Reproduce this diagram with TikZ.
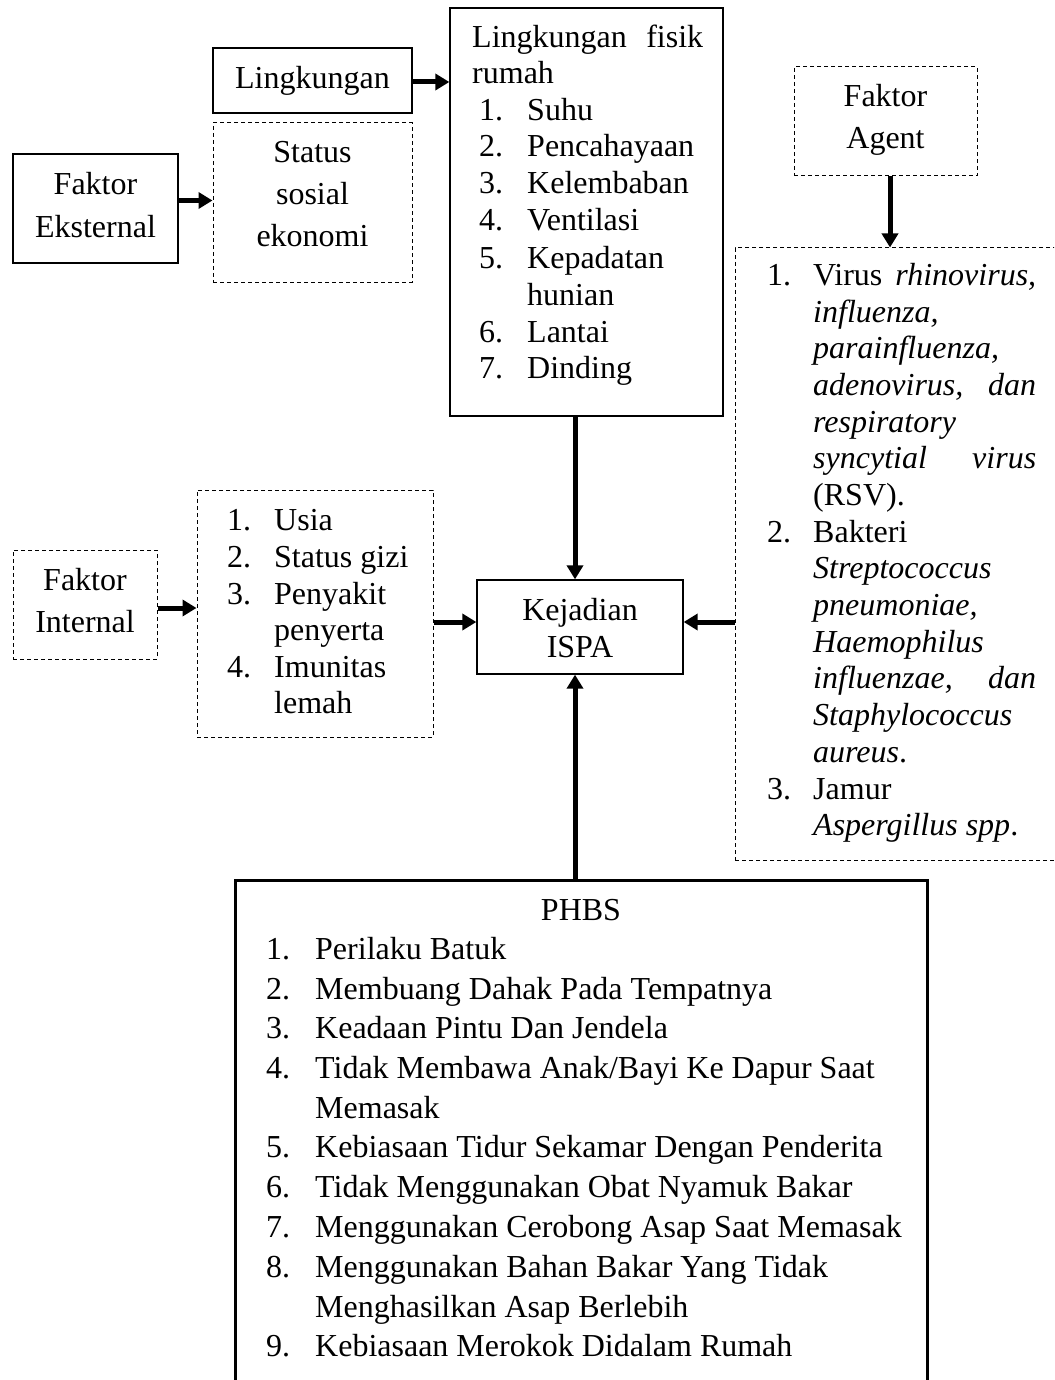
\documentclass[tikz,border=0pt]{standalone}
\usepackage{fontspec}
\setmainfont{Liberation Serif}
\usetikzlibrary{arrows.meta,fit,calc}
\newcommand\myfs{\fontsize{32}{37}\selectfont}
\begin{document}
\begin{tikzpicture}[x=1pt,y=-1pt,
  T/.style={inner sep=0pt, font=\myfs, anchor=base west},
  C/.style={inner sep=0pt, font=\myfs, anchor=base},
  solidbox/.style={draw, line width=1.3pt, inner sep=0pt},
  thickbox/.style={draw, line width=3pt, inner sep=0pt},
  dashbox/.style={draw, line width=1pt, dash pattern=on 4pt off 3pt, inner sep=0pt},
  arr/.style={line width=5pt, -{Triangle[length=14pt,width=16pt]}}
]
\useasboundingbox (0,0) rectangle (1054,1380);
\clip (0,0) rectangle (1054,1380);
\fill[white] (0,0) rectangle (1054,1380);

% boxes
\node[solidbox, fit={(213,48) (412,113)}] (ling) {};
\node[dashbox, fit={(213,123) (412,282)}] (st) {};
\node[solidbox, fit={(13,154) (178,263)}] (fe) {};
\node[solidbox, fit={(450,8) (723,416)}] (fisik) {};
\node[dashbox, fit={(794,67) (977,176)}] (fa) {};
\node[dashbox, fit={(735,248) (1080,860)}] (ag) {};
\node[solidbox, fit={(477,580) (683,674)}] (kej) {};
\node[dashbox, fit={(13,550) (157,659)}] (fi) {};
\node[dashbox, fit={(197,490) (433,737)}] (il) {};
\node[thickbox, fit={(235,880) (927,1420)}] (phbs) {};

% texts
\node[C] (tling) at (312.5,89) {Lingkungan};
\node[C] (tst1) at (312.5,163) {Status};
\node[C] (tst2) at (312.5,205) {sosial};
\node[C] (tst3) at (312.5,247) {ekonomi};
\node[C] (tfe1) at (95.5,195) {Faktor};
\node[C] (tfe2) at (95.5,237) {Eksternal};

\node[T] (tf0) at (472,48) {\makebox[231pt][s]{Lingkungan fisik}};
\node[T] (tf00) at (472,84) {rumah};
\node[T] (nf1) at (479,121) {1.};
\node[T] (tf1) at (527,121) {Suhu};
\node[T] (nf2) at (479,157) {2.};
\node[T] (tf2) at (527,157) {Pencahayaan};
\node[T] (nf3) at (479,194) {3.};
\node[T] (tf3) at (527,194) {Kelembaban};
\node[T] (nf4) at (479,231) {4.};
\node[T] (tf4) at (527,231) {Ventilasi};
\node[T] (nf5) at (479,268) {5.};
\node[T] (tf5) at (527,268) {Kepadatan};
\node[T] (tf5b) at (527,305) {hunian};
\node[T] (nf6) at (479,342) {6.};
\node[T] (tf6) at (527,342) {Lantai};
\node[T] (nf7) at (479,378) {7.};
\node[T] (tf7) at (527,378) {Dinding};

\node[C] (tfa1) at (885.5,107) {Faktor};
\node[C] (tfa2) at (885.5,149) {Agent};

\node[T] (na1) at (767,285) {1.};
\node[T] (ta1) at (813,285) {\makebox[223pt][s]{Virus \textit{rhinovirus,}}};
\node[T] (ta2) at (813,322) {\textit{influenza,}};
\node[T] (ta3) at (813,358) {\textit{parainfluenza,}};
\node[T] (ta4) at (813,395) {\makebox[223pt][s]{\textit{adenovirus, dan}}};
\node[T] (ta5) at (813,432) {\textit{respiratory}};
\node[T] (ta6) at (813,468) {\makebox[223pt][s]{\textit{syncytial virus}}};
\node[T] (ta7) at (813,505) {(RSV).};
\node[T] (na2) at (767,542) {2.};
\node[T] (ta8) at (813,542) {Bakteri};
\node[T] (ta9) at (813,578) {\textit{Streptococcus}};
\node[T] (ta10) at (813,615) {\textit{pneumoniae,}};
\node[T] (ta11) at (813,652) {\textit{Haemophilus}};
\node[T] (ta12) at (813,688) {\makebox[223pt][s]{\textit{influenzae, dan}}};
\node[T] (ta13) at (813,725) {\textit{Staphylococcus}};
\node[T] (ta14) at (813,762) {\textit{aureus}.};
\node[T] (na3) at (767,799) {3.};
\node[T] (ta15) at (813,799) {Jamur};
\node[T] (ta16) at (813,835) {\textit{Aspergillus spp}.};

\node[C] (tfi1) at (85,590) {Faktor};
\node[C] (tfi2) at (85,632) {Internal};

\node[T] (ni1) at (227,530) {1.};
\node[T] (ti1) at (274,530) {Usia};
\node[T] (ni2) at (227,567) {2.};
\node[T] (ti2) at (274,567) {Status gizi};
\node[T] (ni3) at (227,604) {3.};
\node[T] (ti3) at (274,604) {Penyakit};
\node[T] (ti3b) at (274,640) {penyerta};
\node[T] (ni4) at (227,677) {4.};
\node[T] (ti4) at (274,677) {Imunitas};
\node[T] (ti4b) at (274,713) {lemah};

\node[C] (tk1) at (580,620) {Kejadian};
\node[C] (tk2) at (580,657) {ISPA};

\node[C] (tp0) at (581,920) {PHBS};
\node[T] (np1) at (266,959) {1.};
\node[T] (tp1) at (315,959) {Perilaku Batuk};
\node[T] (np2) at (266,999) {2.};
\node[T] (tp2) at (315,999) {Membuang Dahak Pada Tempatnya};
\node[T] (np3) at (266,1038) {3.};
\node[T] (tp3) at (315,1038) {Keadaan Pintu Dan Jendela};
\node[T] (np4) at (266,1078) {4.};
\node[T] (tp4) at (315,1078) {Tidak Membawa Anak/Bayi Ke Dapur Saat};
\node[T] (tp4b) at (315,1118) {Memasak};
\node[T] (np5) at (266,1157) {5.};
\node[T] (tp5) at (315,1157) {Kebiasaan Tidur Sekamar Dengan Penderita};
\node[T] (np6) at (266,1197) {6.};
\node[T] (tp6) at (315,1197) {Tidak Menggunakan Obat Nyamuk Bakar};
\node[T] (np7) at (266,1237) {7.};
\node[T] (tp7) at (315,1237) {Menggunakan Cerobong Asap Saat Memasak};
\node[T] (np8) at (266,1277) {8.};
\node[T] (tp8) at (315,1277) {Menggunakan Bahan Bakar Yang Tidak};
\node[T] (tp8b) at (315,1317) {Menghasilkan Asap Berlebih};
\node[T] (np9) at (266,1356) {9.};
\node[T] (tp9) at (315,1356) {Kebiasaan Merokok Didalam Rumah};

% connectors
\coordinate (kejL) at ($(kej.west)+(0,-5)$);
\coordinate (kejR) at ($(kej.east)+(0,-5)$);
\coordinate (kejT) at ($(kej.north)+(-5,0)$);
\coordinate (kejB) at ($(kej.south)+(-5,0)$);
\coordinate (faB) at ($(fa.south)+(4.5,0)$);
\coordinate (feR) at ($(fe.east)+(0,-8)$);
\coordinate (lingR) at ($(ling.east)+(0,1.5)$);
\coordinate (fiR) at ($(fi.east)+(0,3.5)$);

\draw[arr] (feR) -- (feR -| st.west);
\draw[arr] (lingR) -- (lingR -| fisik.west);
\draw[arr] (fiR) -- (fiR -| il.west);
\draw[arr] (kejL -| il.east) -- (kejL);
\draw[arr] (kejR -| ag.west) -- (kejR);
\draw[arr] (kejT |- fisik.south) -- (kejT);
\draw[arr] (kejB |- phbs.north) -- (kejB);
\draw[arr] (faB) -- (faB |- ag.north);
\end{tikzpicture}
\end{document}
